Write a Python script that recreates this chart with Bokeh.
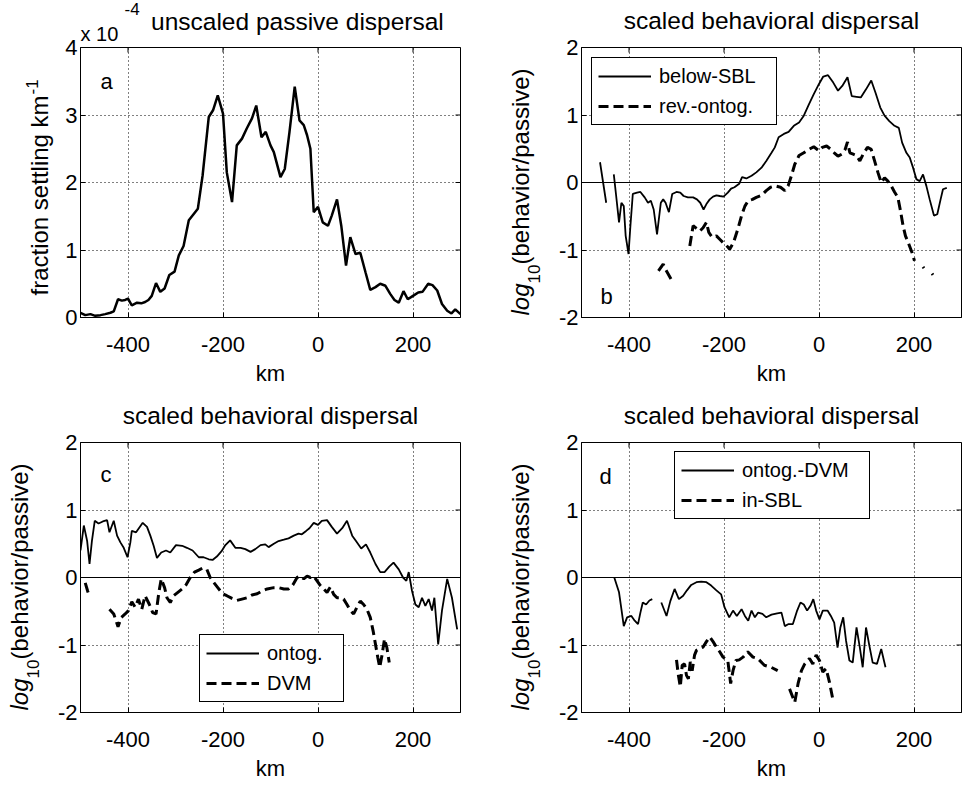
import math
from bokeh.plotting import figure
from bokeh.models import (Label, Span, Legend, LegendItem, FixedTicker, Range1d)
from bokeh.layouts import column, row
from bokeh.embed import file_html
from bokeh.resources import INLINE

FONT = "Liberation Sans"
nan = float("nan")

# ---------------- tick values ----------------
x_ticks = [-400, -200, 0, 200]
ya_ticks = [0, 1, 2, 3, 4]
yr_ticks = [-2, -1, 0, 1, 2]
x_tick_text = {-400: "-400", -200: "-200", 0: "0", 200: "200"}
y_tick_text = {-2: "-2", -1: "-1", 0: "0", 1: "1", 2: "2"}

# ---------------- panel a : passive dispersal (x 1e-4 per km) ----------------
km_a = [-500, -490, -479, -469, -458, -448, -437, -430, -421, -413,
        -406, -400, -392, -381, -372, -364, -357, -350, -341, -332,
        -323, -313, -302, -293, -283, -272, -262, -253, -243, -230,
        -221, -211, -200, -192, -181, -171, -160, -150, -139, -130,
        -119, -110, -100, -93, -79, -70, -60, -49, -39, -30,
        -23, -16, -9, 0, 10, 21, 29, 40, 49, 59,
        68, 79, 89, 100, 110, 121, 131, 142, 152, 161,
        170, 180, 189, 200, 211, 220, 232, 241, 251, 261,
        272, 281, 289, 300]
passive = [0.07, 0.035, 0.05, 0.025, 0.035, 0.05, 0.07, 0.09, 0.27, 0.25,
           0.26, 0.28, 0.18, 0.22, 0.21, 0.23, 0.26, 0.32, 0.51, 0.38,
           0.43, 0.63, 0.68, 0.92, 1.06, 1.44, 1.53, 1.61, 2.10, 2.97,
           3.07, 3.29, 3.02, 2.15, 1.71, 2.55, 2.65, 2.80, 2.95, 3.14,
           2.67, 2.75, 2.55, 2.45, 2.08, 2.20, 2.75, 3.42, 2.92, 2.85,
           2.70, 2.50, 1.56, 1.64, 1.41, 1.36, 1.51, 1.75, 1.36, 0.77,
           1.19, 0.94, 0.96, 0.67, 0.41, 0.45, 0.50, 0.47, 0.35, 0.26,
           0.22, 0.39, 0.27, 0.32, 0.37, 0.38, 0.50, 0.48, 0.40, 0.20,
           0.10, 0.06, 0.12, 0.05]

# ---------------- panel b ----------------
km_below_sbl = [-461, -448, nan, -432, -427, -421, -416, -411, -407, -401,
                -397, -392, -383, -376, -367, -360, -354, -348, -341, -333,
                -328, -323, -316, -309, -300, -292, -285, -276, -265, -257,
                -250, -243, -237, -230, -223, -216, -209, -201, -192, -185,
                -178, -168, -162, -153, -142, -132, -121, -111, -100, -93,
                -85, -74, -64, -53, -42, -32, -21, -11, 0, 9,
                19, 30, 40, 49, 60, 69, 79, 88, 99, 110,
                119, 129, 138, 148, 159, 168, 175, 184, 191, 198,
                205, 212, 219, 226, 233, 242, 249, 256, 261, 269]
below_sbl = [0.30, -0.30, nan, 0.12, -0.20, -0.59, -0.30, -0.35, -0.79, -1.06,
             -0.64, -0.17, -0.15, -0.14, -0.22, -0.30, -0.27, -0.40, -0.77, -0.30,
             -0.25, -0.30, -0.44, -0.17, -0.14, -0.15, -0.20, -0.22, -0.22, -0.25,
             -0.30, -0.40, -0.32, -0.25, -0.21, -0.19, -0.20, -0.21, -0.15, -0.09,
             -0.07, -0.02, 0.08, 0.06, 0.10, 0.15, 0.22, 0.32, 0.44, 0.52,
             0.67, 0.72, 0.75, 0.84, 0.89, 0.99, 1.16, 1.31, 1.46, 1.57,
             1.59, 1.48, 1.36, 1.43, 1.56, 1.28, 1.27, 1.26, 1.38, 1.51,
             1.33, 1.11, 0.99, 0.91, 0.84, 0.81, 0.59, 0.44, 0.37, 0.22,
             0.05, 0.02, 0.12, -0.05, -0.25, -0.49, -0.47, -0.25, -0.10, -0.08]

km_rev_ontog = [-338, -328, -322, -310, nan, -272, -265, -258, -251, -244,
                -237, -232, -225, -216, -209, -202, -195, -188, -180, -170,
                -163, -156, -149, -140, -132, -121, -111, -102, -92, -81,
                -72, -65, -58, -51, -42, -32, -21, -11, 0, 7,
                16, 25, 32, 40, 48, 55, 60, 65, 72, 79,
                86, 93, 102, 110, 117, 124, 131, 138, 145, 152,
                159, 166, 171, 177, 182, 189, 196, 201, nan, 219,
                221, nan, 238, 240]
rev_ontog = [-1.31, -1.21, -1.30, -1.45, nan, -0.94, -0.64, -0.68, -0.72, -0.67,
             -0.59, -0.74, -0.81, -0.79, -0.84, -0.89, -0.93, -0.99, -0.89, -0.67,
             -0.49, -0.35, -0.27, -0.25, -0.22, -0.19, -0.12, -0.07, -0.05, -0.07,
             -0.12, -0.05, 0.10, 0.27, 0.40, 0.44, 0.49, 0.53, 0.47, 0.52,
             0.54, 0.49, 0.44, 0.39, 0.42, 0.49, 0.60, 0.44, 0.42, 0.40,
             0.32, 0.42, 0.52, 0.49, 0.32, 0.15, 0.00, 0.07, 0.02, -0.05,
             -0.14, -0.22, -0.40, -0.64, -0.79, -0.91, -1.04, -1.16, nan, -1.25,
             -1.27, nan, -1.35, -1.37]

# ---------------- panel c ----------------
km_ontog = [-500, -493, -486, -481, -476, -470, -462, -453, -444, -439,
            -430, -423, -416, -409, -401, -395, -392, -383, -376, -369,
            -360, -353, -346, -339, -330, -320, -311, -299, -286, -276,
            -264, -251, -241, -230, -222, -213, -203, -195, -185, -174,
            -163, -153, -142, -132, -121, -111, -104, -93, -83, -72,
            -62, -51, -41, -34, -25, -18, -9, 0, 8, 19,
            29, 40, 51, 61, 72, 80, 91, 101, 110, 121,
            131, 140, 150, 159, 170, 179, 186, 191, 198, 205,
            212, 219, 226, 233, 240, 245, 253, 261, 272, 282,
            293]
ontog = [0.40, 0.77, 0.54, 0.20, 0.54, 0.84, 0.80, 0.83, 0.85, 0.67,
         0.84, 0.62, 0.52, 0.44, 0.30, 0.52, 0.69, 0.67, 0.74, 0.81,
         0.75, 0.62, 0.47, 0.29, 0.37, 0.40, 0.37, 0.48, 0.47, 0.44,
         0.40, 0.30, 0.30, 0.27, 0.26, 0.31, 0.39, 0.48, 0.55, 0.44,
         0.44, 0.42, 0.38, 0.42, 0.48, 0.49, 0.45, 0.50, 0.54, 0.56,
         0.58, 0.62, 0.65, 0.64, 0.69, 0.73, 0.81, 0.78, 0.84, 0.85,
         0.75, 0.65, 0.73, 0.84, 0.62, 0.54, 0.43, 0.49, 0.37, 0.20,
         0.08, 0.08, 0.16, 0.22, 0.12, 0.00, -0.05, 0.08, -0.20, -0.40,
         -0.44, -0.30, -0.42, -0.32, -0.49, -0.30, -0.99, -0.49, -0.02, -0.30,
         -0.77]

km_dvm = [-490, -485, -481, nan, -439, -430, -421, -414, -406, -399,
          -392, -385, -378, -371, -364, -355, -348, -341, -335, -330,
          -323, -318, -311, -304, -295, -286, -278, -269, -260, -251,
          -243, -234, -227, -220, -211, -201, -192, -181, -171, -160,
          -149, -139, -128, -118, -107, -93, -83, -72, -62, -53,
          -44, -37, -30, -23, -16, -9, -2, 5, 12, 19,
          26, 33, 40, 47, 54, 61, 68, 75, 82, 89,
          96, 103, 110, 116, 121, 126, 130, 135, 140, 145,
          150]
dvm = [-0.08, -0.20, -0.28, nan, -0.47, -0.54, -0.73, -0.59, -0.54, -0.49,
       -0.36, -0.44, -0.32, -0.47, -0.27, -0.40, -0.52, -0.54, -0.22, -0.02,
       -0.15, -0.30, -0.37, -0.27, -0.22, -0.17, -0.11, 0.00, 0.08, 0.11,
       0.14, 0.12, 0.00, -0.07, -0.15, -0.24, -0.27, -0.31, -0.34, -0.32,
       -0.30, -0.26, -0.24, -0.20, -0.17, -0.15, -0.15, -0.17, -0.17, -0.11,
       0.00, 0.02, -0.02, 0.02, 0.00, 0.02, -0.05, -0.12, -0.17, -0.22,
       -0.14, -0.25, -0.30, -0.30, -0.32, -0.40, -0.49, -0.54, -0.44, -0.35,
       -0.40, -0.47, -0.59, -0.79, -0.99, -1.19, -1.33, -1.14, -0.91, -1.04,
       -1.26]

# ---------------- panel d ----------------
km_ontog_dvm = [-431, -421, -416, -411, -404, -395, -388, -381, -376, -371,
                -364, -357, -351, nan, -332, -321, -313, -304, -295, -286,
                -278, -269, -258, -248, -237, -227, -216, -206, -199, -189,
                -181, -173, -163, -156, -149, -142, -135, -128, -119, -111,
                -100, -88, -79, -72, -64, -55, -46, -39, -32, -25,
                -18, -12, -6, 1, 8, 18, 25, 32, 39, 45,
                51, 57, 64, 71, 79, 86, 92, 99, 106, 113,
                122, 131, 140]
ontog_dvm = [0.00, -0.22, -0.47, -0.72, -0.59, -0.57, -0.64, -0.69, -0.52, -0.37,
             -0.40, -0.34, -0.32, nan, -0.37, -0.57, -0.35, -0.17, -0.32, -0.27,
             -0.19, -0.11, -0.07, -0.06, -0.07, -0.12, -0.19, -0.25, -0.44, -0.59,
             -0.49, -0.57, -0.47, -0.57, -0.64, -0.49, -0.59, -0.52, -0.54, -0.59,
             -0.55, -0.53, -0.52, -0.72, -0.69, -0.69, -0.49, -0.37, -0.40, -0.49,
             -0.42, -0.32, -0.49, -0.62, -0.49, -0.49, -0.57, -0.67, -1.04, -0.74,
             -0.59, -0.94, -1.23, -1.26, -0.74, -1.04, -1.33, -0.74, -1.01, -1.26,
             -1.28, -1.06, -1.33]

km_in_sbl = [-300, -296, -292, -288, -283, -279, -275, -271, -267, -262,
             -258, -251, -244, -237, -230, -223, -216, -209, -202, -192,
             -186, -181, -175, -168, -160, -150, -139, -129, -115, -101,
             -87, nan, -62, -51, -44, -37, -30, -20, -13, -6,
             1, 8, 15, 22, 29]
in_sbl = [-1.22, -1.45, -1.62, -1.30, -1.28, -1.45, -1.50, -1.25, -1.38, -1.15,
          -1.08, -1.05, -1.03, -0.95, -0.88, -0.95, -1.03, -1.10, -1.18, -1.23,
          -1.57, -1.38, -1.23, -1.22, -1.18, -1.10, -1.18, -1.20, -1.30, -1.33,
          -1.38, nan, -1.65, -1.85, -1.57, -1.38, -1.28, -1.20, -1.28, -1.15,
          -1.23, -1.40, -1.35, -1.55, -1.80]

# ---------------- layout constants ----------------
W, H = 964, 785
FW, FH = 380, 270
DASH = "10 5"
XR = (-500, 300)
BASE_K = 0.26   # correction: Bokeh draws "alphabetic" labels slightly low


def make_fig(bl, br, bt, bb, yr, yt):
    p = figure(frame_width=FW, frame_height=FH,
               x_range=Range1d(*XR), y_range=Range1d(*yr),
               min_border_left=bl, min_border_right=br,
               min_border_top=bt, min_border_bottom=bb,
               toolbar_location=None, output_backend="svg",
               background_fill_color="white", border_fill_color="white")
    p.outline_line_color = "black"
    p.outline_line_alpha = 1
    p.outline_line_width = 1
    p.xaxis.ticker = FixedTicker(ticks=x_ticks)
    p.yaxis.ticker = FixedTicker(ticks=yt)
    p.xaxis.major_label_overrides = x_tick_text
    p.yaxis.major_label_overrides = {k: v for k, v in y_tick_text.items() if k in yt}
    for ax in (p.xaxis[0], p.yaxis[0]):
        ax.major_tick_in = 5
        ax.major_tick_out = 0
        ax.minor_tick_line_color = None
        ax.major_tick_line_color = "black"
        ax.axis_line_color = "black"
        ax.major_label_text_font = FONT
        ax.major_label_text_font_size = "22px"
        ax.major_label_text_color = "black"
    p.yaxis.major_label_standoff = 3
    p.xaxis.major_label_standoff = 19
    p.xaxis.axis_label = "km"
    p.xaxis.axis_label_text_font = FONT
    p.xaxis.axis_label_text_font_size = "22px"
    p.xaxis.axis_label_text_font_style = "normal"
    p.xaxis.axis_label_text_color = "black"
    p.xaxis.axis_label_standoff = 6
    for g in (p.xgrid[0], p.ygrid[0]):
        g.grid_line_color = "black"
        g.grid_line_dash = "1 3"
        g.grid_line_width = 1
        g.grid_line_alpha = 1
    # inward tick marks on the top and right edges (half of each dash is clipped)
    p.scatter(x=x_ticks, y=[yr[1]] * len(x_ticks), marker="dash",
              angle=math.pi / 2, size=10, line_color="black", line_width=1)
    p.scatter(x=[XR[1]] * len(yt), y=yt, marker="dash", size=10,
              line_color="black", line_width=1)
    return p


def inner_label(p, x, y, text, size=22):
    p.add_layout(Label(x=x, y=y + BASE_K * size, x_units="screen",
                       y_units="screen", text=text, text_font=FONT,
                       text_font_size=f"{size}px", text_align="left",
                       text_baseline="alphabetic", text_color="black"))


def zero_line(p):
    p.add_layout(Span(location=0, dimension="width", line_color="black",
                      line_width=1))


def legend(p, items, loc, lw):
    leg = Legend(items=items, location=loc, margin=0, padding=6, spacing=6,
                 glyph_width=53, glyph_height=24, label_height=24,
                 label_width=lw, label_standoff=8,
                 label_text_font=FONT, label_text_font_size="20px",
                 label_text_color="black",
                 border_line_color="black", border_line_width=1,
                 border_line_alpha=1, background_fill_color="white",
                 background_fill_alpha=1)
    p.add_layout(leg)


# ---------------- panel a ----------------
pa = make_fig(80, 22, 47, 75, (0, 4), ya_ticks)
pa.line(km_a, passive, line_color="black", line_width=2.5)
inner_label(pa, 20, 230, "a")

# ---------------- panel b ----------------
pb = make_fig(99, 3, 47, 75, (-2, 2), yr_ticks)
zero_line(pb)
rb1 = pb.line(km_below_sbl, below_sbl, line_color="black", line_width=1.8)
rb2 = pb.line(km_rev_ontog, rev_ontog, line_color="black", line_width=3,
              line_dash=DASH)
legend(pb, [LegendItem(label="below-SBL", renderers=[rb1]),
            LegendItem(label="rev.-ontog.", renderers=[rb2])], (10, 192), 111)
inner_label(pb, 19, 15, "b")

# ---------------- panel c ----------------
pc = make_fig(80, 22, 50, 73, (-2, 2), yr_ticks)
zero_line(pc)
rc1 = pc.line(km_ontog, ontog, line_color="black", line_width=1.8)
rc2 = pc.line(km_dvm, dvm, line_color="black", line_width=3, line_dash=DASH)
legend(pc, [LegendItem(label="ontog.", renderers=[rc1]),
            LegendItem(label="DVM", renderers=[rc2])], (119, 10), 70)
inner_label(pc, 20, 232, "c")

# ---------------- panel d ----------------
pd_ = make_fig(99, 3, 50, 73, (-2, 2), yr_ticks)
zero_line(pd_)
rd1 = pd_.line(km_ontog_dvm, ontog_dvm, line_color="black", line_width=1.8)
rd2 = pd_.line(km_in_sbl, in_sbl, line_color="black", line_width=3,
               line_dash=DASH)
legend(pd_, [LegendItem(label="ontog.-DVM", renderers=[rd1]),
             LegendItem(label="in-SBL", renderers=[rd2])], (93, 193), 121)
inner_label(pd_, 18, 230, "d")

# ---------------- transparent text overlay (titles, y labels) ----------------
ov = figure(width=W, height=H, x_range=Range1d(0, W), y_range=Range1d(0, H),
            min_border=0, toolbar_location=None, output_backend="svg",
            x_axis_type=None, y_axis_type=None, title=None,
            margin=(-H, 0, 0, 0))
ov.outline_line_color = None
ov.background_fill_alpha = 0
ov.border_fill_alpha = 0
ov.xgrid.visible = False
ov.ygrid.visible = False

# frame edges of the four panels (page pixels)
LEFTS = {"a": 80, "b": 581, "c": 80, "d": 581}
TOPS = {"a": 47, "b": 47, "c": 442, "d": 442}
ROT = math.pi / 2


def otext(x, y, text, size, align="left", angle=0.0, style="normal"):
    # x, y: page pixels from the top-left corner, at the text baseline
    shift = BASE_K * size
    if angle:
        x -= shift
    else:
        y -= shift
    ov.add_layout(Label(x=x, y=H - y, x_units="screen", y_units="screen",
                        text=text, text_font=FONT, text_font_size=f"{size}px",
                        text_align=align, text_baseline="alphabetic",
                        angle=angle, text_font_style=style, text_color="black"))


# panel a
otext(LEFTS["a"] + 70.5, 27.3, "unscaled passive dispersal", 24.5)
otext(LEFTS["a"], 38.3, "x 10", 20)
otext(LEFTS["a"] + 44, 13, "-4", 17)
otext(45, 295, "fraction settling km", 24, angle=ROT)
otext(36, 94, "-1", 17, angle=ROT)

# panels b, c, d
for key in ("b", "c", "d"):
    left, top = LEFTS[key], TOPS[key]
    bottom = top + FH
    otext(left + FW / 2, top - 20.5, "scaled behavioral dispersal", 24.5,
          align="center")
    otext(left - 54.5, bottom - 2, "log", 24, angle=ROT, style="italic")
    otext(left - 43.5, bottom - 34, "10", 17, angle=ROT)
    otext(left - 54.5, bottom - 53, "(behavior/passive)", 24, angle=ROT)

layout = column(row(pa, pb), row(pc, pd_), ov)
open("out.html", "w").write(file_html(layout, INLINE))
